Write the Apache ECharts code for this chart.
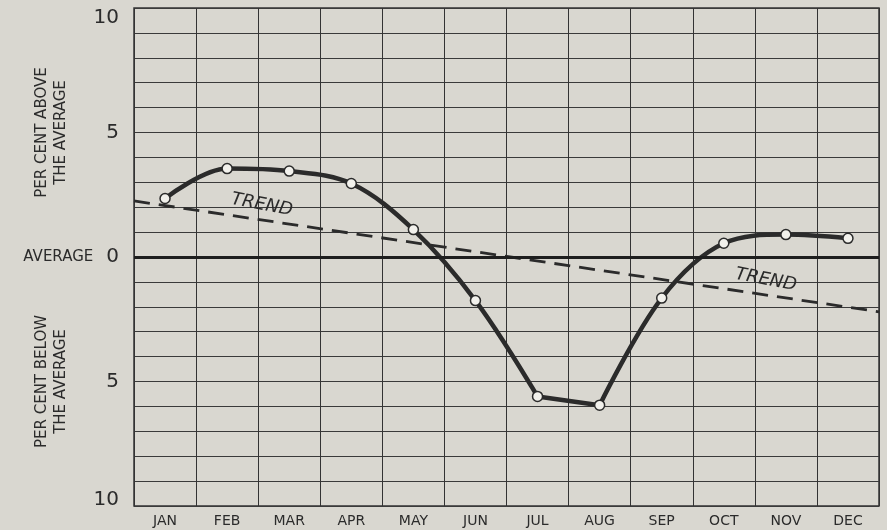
<!DOCTYPE html>
<html>
<head>
<meta charset="utf-8">
<script src="https://cdn.jsdelivr.net/npm/echarts@6/dist/echarts.min.js"></script>
<style>
  html, body { margin: 0; padding: 0; background: #d9d7d0; }
  #main { width: 887px; height: 530px; }
</style>
</head>
<body>
<div id="main"></div>
<script>
// months along the bottom
const months = ['JAN', 'FEB', 'MAR', 'APR', 'MAY', 'JUN', 'JUL', 'AUG', 'SEP', 'OCT', 'NOV', 'DEC'];
// per cent above (+) / below (-) the average
const values = [2.35, 3.55, 3.45, 2.95, 1.1, -1.75, -5.6, -5.95, -1.65, 0.55, 0.9, 0.75];
// trend line: value at left edge and right edge of the grid
const trendX = [0, 12];
const trendY = [2.25, -2.2];
// y labels shown only on these values
const yLabelled = [10, 5, 0, -5, -10];

const ink = '#2b2b2b';
const font = 'DejaVu Sans';

// curve is drawn in three pieces: smooth, straight (JUL-AUG), smooth
function piece(from, to) {
  return values.map((v, i) => (i >= from && i <= to ? v : null));
}

const chart = echarts.init(document.getElementById('main'));

const curveStyle = {
  type: 'line',
  symbol: 'none',
  connectNulls: false,
  silent: true,
  lineStyle: { color: ink, width: 4.5 },
  z: 4
};

const option = {
  backgroundColor: '#d9d7d0',
  animation: false,
  grid: {
    left: 134, right: 8, top: 8, bottom: 24,
    show: true, borderColor: '#333', borderWidth: 1.5
  },
  xAxis: [
    {
      type: 'category',
      data: months,
      boundaryGap: true,
      axisLine: { show: false },
      axisTick: { show: false },
      splitLine: { show: true, interval: 0, lineStyle: { color: '#333', width: 1 } },
      axisLabel: { color: ink, fontFamily: font, fontSize: 14, margin: 8, interval: 0 }
    },
    { type: 'value', min: 0, max: 12, show: false }
  ],
  yAxis: {
    type: 'value',
    min: -10, max: 10, interval: 1,
    axisLine: { show: false },
    axisTick: { show: false },
    splitLine: { show: true, lineStyle: { color: '#3a3a3a', width: 1 } },
    axisLabel: {
      margin: 15,
      color: ink,
      formatter: function (v) {
        if (yLabelled.indexOf(v) < 0) return '';
        if (v === 0) return '{avg|AVERAGE}{num|0}';
        if (v === 10) return '{top|10}';
        if (v === -10) return '{bot|10}';
        return '{num|' + Math.abs(v) + '}';
      },
      rich: {
        avg: { fontFamily: font, fontSize: 15, color: ink, padding: [0, 13, 0, 0] },
        num: { fontFamily: font, fontSize: 20, color: ink },
        top: { fontFamily: font, fontSize: 20, color: ink, padding: [20, 0, 0, 0] },
        bot: { fontFamily: font, fontSize: 20, color: ink, padding: [0, 0, 12, 0] }
      }
    }
  },
  series: [
    {
      type: 'line',
      xAxisIndex: 1,
      data: trendX.map((x, i) => [x, trendY[i]]),
      symbol: 'none',
      silent: true,
      lineStyle: { color: ink, width: 2.8, type: [16, 9] },
      z: 3
    },
    Object.assign({}, curveStyle, { data: piece(0, 6), smooth: 0.35 }),
    Object.assign({}, curveStyle, { data: piece(6, 7), smooth: false }),
    Object.assign({}, curveStyle, { data: piece(7, 11), smooth: 0.35 }),
    {
      type: 'line',
      data: values,
      lineStyle: { width: 0 },
      symbol: 'circle',
      symbolSize: 10,
      itemStyle: { color: '#f2f1ec', borderColor: ink, borderWidth: 1.5 },
      z: 5,
      markLine: {
        silent: true,
        symbol: 'none',
        label: { show: false },
        lineStyle: { color: '#1e1e1e', width: 2.8, type: 'solid' },
        data: [{ yAxis: 0 }]
      }
    }
  ]
};

chart.setOption(option);

// side captions and TREND labels placed from the axes
const pA = chart.convertToPixel({ xAxisIndex: 1, yAxisIndex: 0 }, [trendX[0], trendY[0]]);
const pB = chart.convertToPixel({ xAxisIndex: 1, yAxisIndex: 0 }, [trendX[1], trendY[1]]);
const angle = Math.atan2(pA[1] - pB[1], pB[0] - pA[0]);
function trendLabel(xv) {
  const y = trendY[0] + (trendY[1] - trendY[0]) * (xv - trendX[0]) / (trendX[1] - trendX[0]);
  const p = chart.convertToPixel({ xAxisIndex: 1, yAxisIndex: 0 }, [xv, y]);
  return {
    type: 'text', x: p[0], y: p[1] - 15, rotation: angle - 0.04,
    style: {
      text: 'TREND', fontFamily: font, fontStyle: 'italic', fontSize: 18,
      fill: ink, align: 'center', verticalAlign: 'middle'
    }
  };
}
const above = chart.convertToPixel({ yAxisIndex: 0 }, 5);
const below = chart.convertToPixel({ yAxisIndex: 0 }, -5);
function caption(text, y) {
  return {
    type: 'text', x: 52, y: y, rotation: Math.PI / 2,
    style: {
      text: text, fontFamily: font, fontSize: 15, lineHeight: 19,
      fill: ink, align: 'center', verticalAlign: 'middle'
    }
  };
}
chart.setOption({
  graphic: [
    caption('PER CENT ABOVE\nTHE AVERAGE', above),
    caption('PER CENT BELOW\nTHE AVERAGE', below),
    trendLabel(2.06),
    trendLabel(10.18)
  ]
});

window.addEventListener('resize', () => chart.resize());
</script>
</body>
</html>
